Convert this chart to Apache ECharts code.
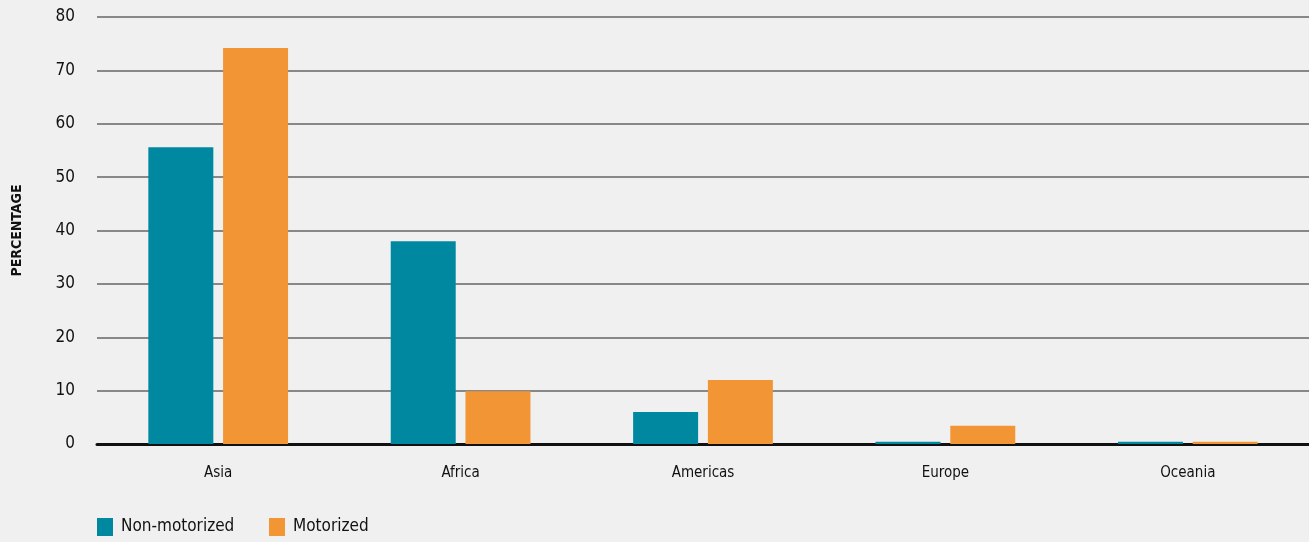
<!DOCTYPE html>
<html>
<head>
<meta charset="utf-8">
<script src="https://cdn.jsdelivr.net/npm/echarts@6/dist/echarts.min.js"></script>
<style>
html,body{margin:0;padding:0;background:#f0f0f0;}
#c{width:1309px;height:542px;}
</style>
</head>
<body>
<div id="c"></div>
<script>
const categories = ['Asia', 'Africa', 'Americas', 'Europe', 'Oceania'];
const nonMotorized = [55.6, 38.0, 6.0, 0.4, 0.4];
const motorized = [74.2, 9.9, 12.0, 3.4, 0.4];
const seriesNames = ['Non-motorized', 'Motorized'];
const yAxisTitle = 'PERCENTAGE';

const FONT = '"DejaVu Sans Condensed", "Liberation Sans Narrow", sans-serif';
const legendText = { fontFamily: FONT, fontSize: 17, color: '#111', padding: [0,0,0,3] };
const chart = echarts.init(document.getElementById('c'));
chart.setOption({
  backgroundColor: '#f0f0f0',
  animation: false,
  grid: { left: 97, right: 0, top: 17, bottom: 98, containLabel: false, outerBoundsMode: 'none' },
  legend: [
    { data: [seriesNames[0]], left: 97, top: 518, padding: 0, itemWidth: 16, itemHeight: 18, icon: 'rect', textStyle: legendText },
    { data: [seriesNames[1]], left: 269, top: 518, padding: 0, itemWidth: 16, itemHeight: 18, icon: 'rect', textStyle: legendText }
  ],
  xAxis: {
    type: 'category',
    data: categories,
    axisLine: { show: true, lineStyle: { color: '#111', width: 3 } },
    axisTick: { show: false },
    axisLabel: { fontFamily: FONT, fontSize: 15, color: '#111', margin: 22 }
  },
  yAxis: {
    type: 'value',
    min: 0, max: 80, interval: 10,
    name: yAxisTitle,
    nameLocation: 'middle',
    nameGap: 73,
    nameRotate: 90,
    nameTextStyle: { fontFamily: FONT, fontWeight: 'bold', fontSize: 14, color: '#111' },
    axisLine: { show: false },
    axisTick: { show: false },
    axisLabel: { fontFamily: FONT, fontSize: 17, color: '#111', margin: 22 },
    splitLine: { lineStyle: { color: '#666', width: 1.5 } }
  },
  series: [
    { name: seriesNames[0], type: 'bar', data: nonMotorized, barWidth: 65, barGap: '15%', itemStyle: { color: '#0088a0' } },
    { name: seriesNames[1], type: 'bar', data: motorized, barWidth: 65, itemStyle: { color: '#f29535' } }
  ]
});
</script>
</body>
</html>
